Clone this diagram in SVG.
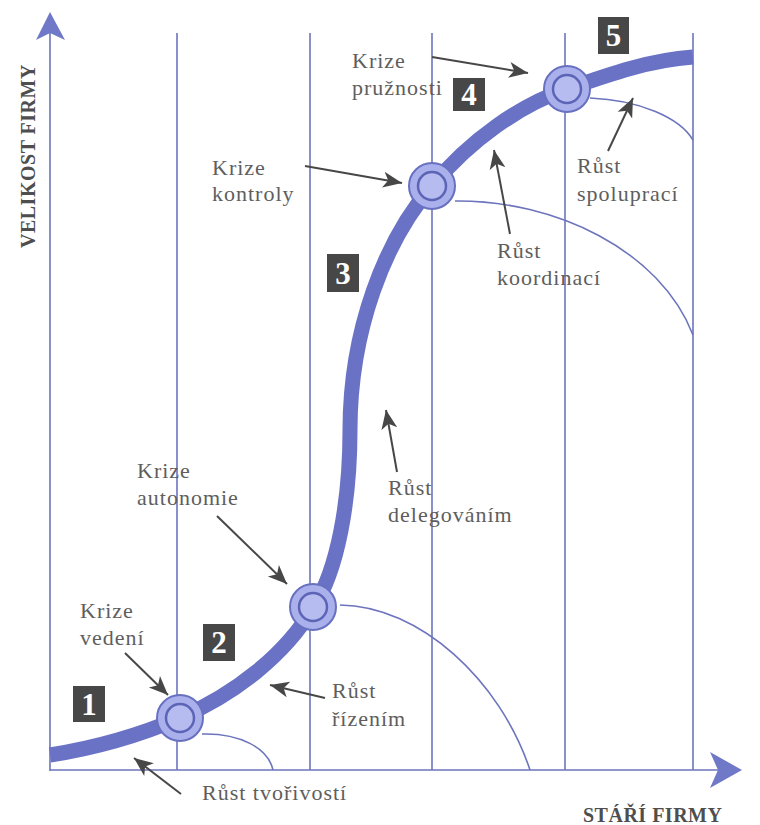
<svg xmlns="http://www.w3.org/2000/svg" width="760" height="825" viewBox="0 0 760 825">
<defs>
<style>
.grid{stroke:#6c74bd;stroke-width:1.6;fill:none}
.arc{stroke:#6c74bd;stroke-width:1.6;fill:none}
.main{stroke:#6a72c5;stroke-width:15;fill:none;stroke-linecap:butt}
.ptr{stroke:#474747;stroke-width:2;fill:none;marker-end:url(#ah)}
.lbl{font-family:"Liberation Serif","Times New Roman",serif;font-size:22px;letter-spacing:1px;fill:#5e5e5e}
.axl{font-family:"Liberation Serif","Times New Roman",serif;font-size:20px;font-weight:bold;letter-spacing:0.5px;fill:#4e4e4e}
.box{fill:#474747}
.num{font-family:"Liberation Serif","Times New Roman",serif;font-size:31px;font-weight:bold;fill:#ffffff;text-anchor:middle}
.outer{fill:#aab0ec;stroke:#6870c0;stroke-width:2}
.inner{fill:#b6bbf0;stroke:#5c64b5;stroke-width:2.5}
.axhead{fill:#7078c8}
</style>
<marker id="ah" markerWidth="22" markerHeight="18" refX="19" refY="9" orient="auto" markerUnits="userSpaceOnUse">
<path d="M0,1 L19,9 L0,17 L5,9 Z" fill="#474747"/>
</marker>
</defs>
<rect width="760" height="825" fill="#ffffff"/>

<g id="axes">
<line class="grid" x1="50" y1="771" x2="50" y2="30"/>
<line class="grid" x1="50" y1="770" x2="722" y2="770"/>
<path class="axhead" d="M50,12 L65,40 L50,33 L36,40 Z"/>
<path class="axhead" d="M742,770 L710,752 L718,770 L710,788 Z"/>
</g>

<g id="gridlines">
<line class="grid" x1="177" y1="33" x2="177" y2="770"/>
<line class="grid" x1="310" y1="33" x2="310" y2="770"/>
<line class="grid" x1="432" y1="33" x2="432" y2="770"/>
<line class="grid" x1="565" y1="33" x2="565" y2="770"/>
<line class="grid" x1="693" y1="33" x2="693" y2="770"/>
</g>

<g id="arcs">
<path class="arc" d="M202,734 C240,733 268,748 273,770"/>
<path class="arc" d="M340,605 C420,606 500,680 530,770"/>
<path class="arc" d="M455,201 C555,200 660,250 693,335"/>
<path class="arc" d="M590,98 C640,100 680,118 693,140"/>
</g>

<g id="curve">
<path class="main" d="M50,755 C95,748 140,735 180,718 C235,694 285,655 313,608 C338,570 350,500 350,430 C350,330 385,240 432,186 C470,140 520,105 567,89 C610,74 650,60 693,57"/>
</g>

<g id="node-c1"><circle class="outer" cx="180" cy="718" r="23"/><circle class="inner" cx="180" cy="718" r="14"/></g>
<g id="node-c2"><circle class="outer" cx="313" cy="607" r="23"/><circle class="inner" cx="313" cy="607" r="14"/></g>
<g id="node-c3"><circle class="outer" cx="432" cy="186" r="23"/><circle class="inner" cx="432" cy="186" r="14"/></g>
<g id="node-c4"><circle class="outer" cx="567" cy="89" r="23"/><circle class="inner" cx="567" cy="89" r="14"/></g>

<g id="box1"><rect class="box" x="73" y="686" width="32" height="36"/><text class="num" x="89" y="715">1</text></g>
<g id="box2"><rect class="box" x="203" y="624" width="32" height="37"/><text class="num" x="219" y="653">2</text></g>
<g id="box3"><rect class="box" x="327" y="254" width="32" height="38"/><text class="num" x="343" y="284">3</text></g>
<g id="box4"><rect class="box" x="453" y="78" width="32" height="33"/><text class="num" x="469" y="105">4</text></g>
<g id="box5"><rect class="box" x="598" y="17" width="31" height="37"/><text class="num" x="613.5" y="46">5</text></g>

<g id="connectors">
<line class="ptr" x1="432" y1="57" x2="528" y2="73"/>
<line class="ptr" x1="305" y1="166" x2="402" y2="183"/>
<line class="ptr" x1="608" y1="151" x2="633" y2="98"/>
<line class="ptr" x1="510" y1="234" x2="494" y2="150"/>
<line class="ptr" x1="397" y1="472" x2="386" y2="410"/>
<line class="ptr" x1="217" y1="516" x2="287" y2="584"/>
<line class="ptr" x1="125" y1="653" x2="168" y2="695"/>
<line class="ptr" x1="325" y1="698" x2="270" y2="685"/>
<line class="ptr" x1="181" y1="794" x2="134" y2="758"/>
</g>

<g id="label-pruznost"><text class="lbl" x="352" y="68">Krize</text><text class="lbl" x="352" y="95">pružnosti</text></g>
<g id="label-kontrola"><text class="lbl" x="212" y="175">Krize</text><text class="lbl" x="212" y="201">kontroly</text></g>
<g id="label-spoluprace"><text class="lbl" x="577" y="173">Růst</text><text class="lbl" x="577" y="201">spoluprací</text></g>
<g id="label-koordinace"><text class="lbl" x="497" y="258">Růst</text><text class="lbl" x="497" y="285">koordinací</text></g>
<g id="label-delegovani"><text class="lbl" x="388" y="495">Růst</text><text class="lbl" x="388" y="522">delegováním</text></g>
<g id="label-autonomie"><text class="lbl" x="137" y="478">Krize</text><text class="lbl" x="137" y="505">autonomie</text></g>
<g id="label-vedeni"><text class="lbl" x="80" y="618">Krize</text><text class="lbl" x="80" y="645">vedení</text></g>
<g id="label-rizeni"><text class="lbl" x="332" y="698">Růst</text><text class="lbl" x="332" y="726">řízením</text></g>
<g id="label-tvorivost"><text class="lbl" x="202" y="800">Růst tvořivostí</text></g>

<g id="axis-labels">
<text class="axl" transform="translate(35,248) rotate(-90)">VELIKOST FIRMY</text>
<text class="axl" x="583" y="822">STÁŘÍ FIRMY</text>
</g>
</svg>
